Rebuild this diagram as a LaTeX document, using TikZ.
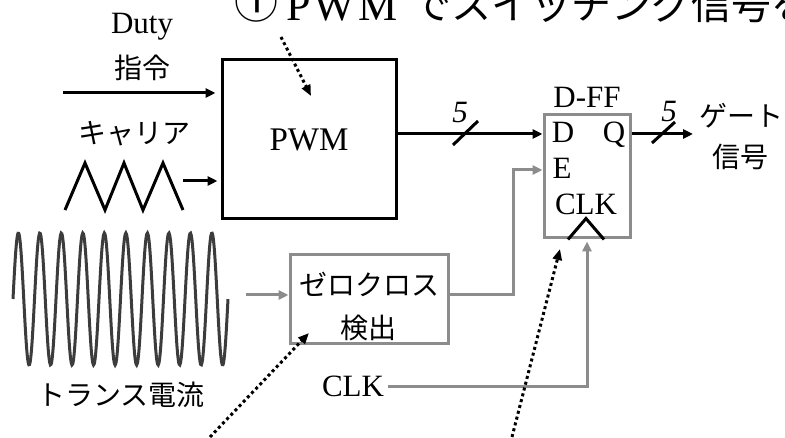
\documentclass[tikz,border=0pt]{standalone}
\usepackage{fontspec}
\setmainfont{Liberation Serif}
\newfontfamily\jpfont{Noto Sans CJK JP}
\usepackage{tikz}
\usetikzlibrary{arrows.meta, positioning, calc}
\usepackage{xcolor}
\definecolor{linegray}{HTML}{8C8C8C}
\definecolor{wavegray}{HTML}{3C3C3C}

\begin{document}
\begin{tikzpicture}[x=1pt, y=-1pt,
  lat/.style={inner sep=0pt, font=\fontsize{31}{36}\selectfont},
  jp/.style={inner sep=0pt, font=\jpfont\fontsize{28}{34}\selectfont},
  sig/.style={-{Triangle[length=10pt, width=9pt]}, line width=3pt},
  gsig/.style={sig, linegray},
  hint/.style={-{Triangle[length=11pt, width=9pt]}, line width=3pt, dash pattern=on 3pt off 3pt}]
  \useasboundingbox (0,0) rectangle (785,438);
  \clip (0,0) rectangle (785,438);

  % title (cut off by the frame)
  \node[anchor=base west, inner sep=0pt, font=\jpfont\fontsize{44}{50}\selectfont] (title1) at (234,19) {①};
  \node[anchor=base west, inner sep=0pt, font=\fontsize{44}{50}\selectfont] (title2) at (286,21)
    {P\hspace{3pt}W\hspace{3pt}M};
  \node[anchor=base west, inner sep=0pt, font=\jpfont\fontsize{40}{46}\selectfont] (title3) at (411,20)
    {でスイッチング信号を};

  % blocks
  \node[draw, line width=3pt, minimum width=174pt, minimum height=159pt,
        font=\fontsize{33}{38}\selectfont] (pwm) at (309,139.5) {PWM};
  \node[draw=linegray, line width=3pt, minimum width=86pt, minimum height=123pt] (dff) at (587,176.5) {};
  \node[draw=linegray, line width=3pt, minimum width=158pt, minimum height=89pt] (zc) at (369,299.5) {};

  \node[lat, anchor=base] (dfflbl) at (587,108) {D-FF};
  \node[lat, anchor=base] (dpin) at (563,143) {D};
  \node[lat, anchor=base] (qpin) at (614,143) {Q};
  \node[lat, anchor=base] (epin) at (562,179) {E};
  \node[lat, anchor=base] (ckpin) at (586,215) {CLK};
  \draw[line width=3pt] ([xshift=-19pt]dff.south) -- ++(18,-21) -- ++(18,21);

  \node[jp] (zc1) at (369,284) {ゼロクロス};
  \node[jp] (zc2) at (368,328) {検出};

  % inputs
  \node[lat, anchor=base] (duty) at (142,34) {Duty};
  \node[jp] (dutyjp) at (142,68) {指令};
  \node[jp] (carrier) at (134,134) {キャリア};
  \node[jp] (trans) at (121,395) {トランス電流};
  \node[lat, anchor=base] (clk) at (353,397) {CLK};

  \coordinate (dutyin) at (63,93);
  \draw[sig] (dutyin) -- ([xshift=-5pt]dutyin -| pwm.west);

  \draw[line width=3pt, line join=miter] (65,210) -- (85,163) -- (105,210) -- (124,163)
    -- (143,210) -- (163,163) -- (183,210);
  \coordinate (carend) at (183,181);
  \draw[sig] (carend) -- ([xshift=-3pt]carend -| pwm.west);

  \draw[wavegray, line width=3pt] plot[smooth, domain=0:215, samples=300]
    ({13+\x}, {299-66*sin(\x/21.5*360)});
  \coordinate (wavend) at (246,295);
  \draw[gsig] (wavend) -- ([yshift=4.5pt]zc.west);

  % outputs
  \coordinate (din) at (dff.west |- 0,134);
  \draw[sig] (pwm.east |- din) -- (din);
  \draw[line width=3pt] (453,145) -- (478,121);
  \node[lat, anchor=base, font=\fontsize{31}{36}\selectfont\itshape] (bus1) at (460,123) {5};

  \coordinate (qout) at (693,134);
  \draw[sig] (dff.east |- qout) -- (qout);
  \draw[line width=3pt] (652,143) -- (675,122);
  \node[lat, anchor=base, font=\fontsize{31}{36}\selectfont\itshape] (bus2) at (669,122) {5};
  \node[jp] (gate1) at (741,116) {ゲート};
  \node[jp] (gate2) at (740,157) {信号};

  \coordinate (ein) at (dff.west |- 0,170);
  \draw[gsig] ([yshift=4.5pt]zc.east) -| (513,170) -- (ein);
  \draw[gsig] ([xshift=4pt]clk.east) -| ([yshift=-2pt]dff.south);

  % pointers
  \draw[hint] (281,37) -- (311,96);
  \draw[hint] (210,437) -- (309,333);
  \draw[hint] (512,437) -- (560,249);
\end{tikzpicture}
\end{document}
